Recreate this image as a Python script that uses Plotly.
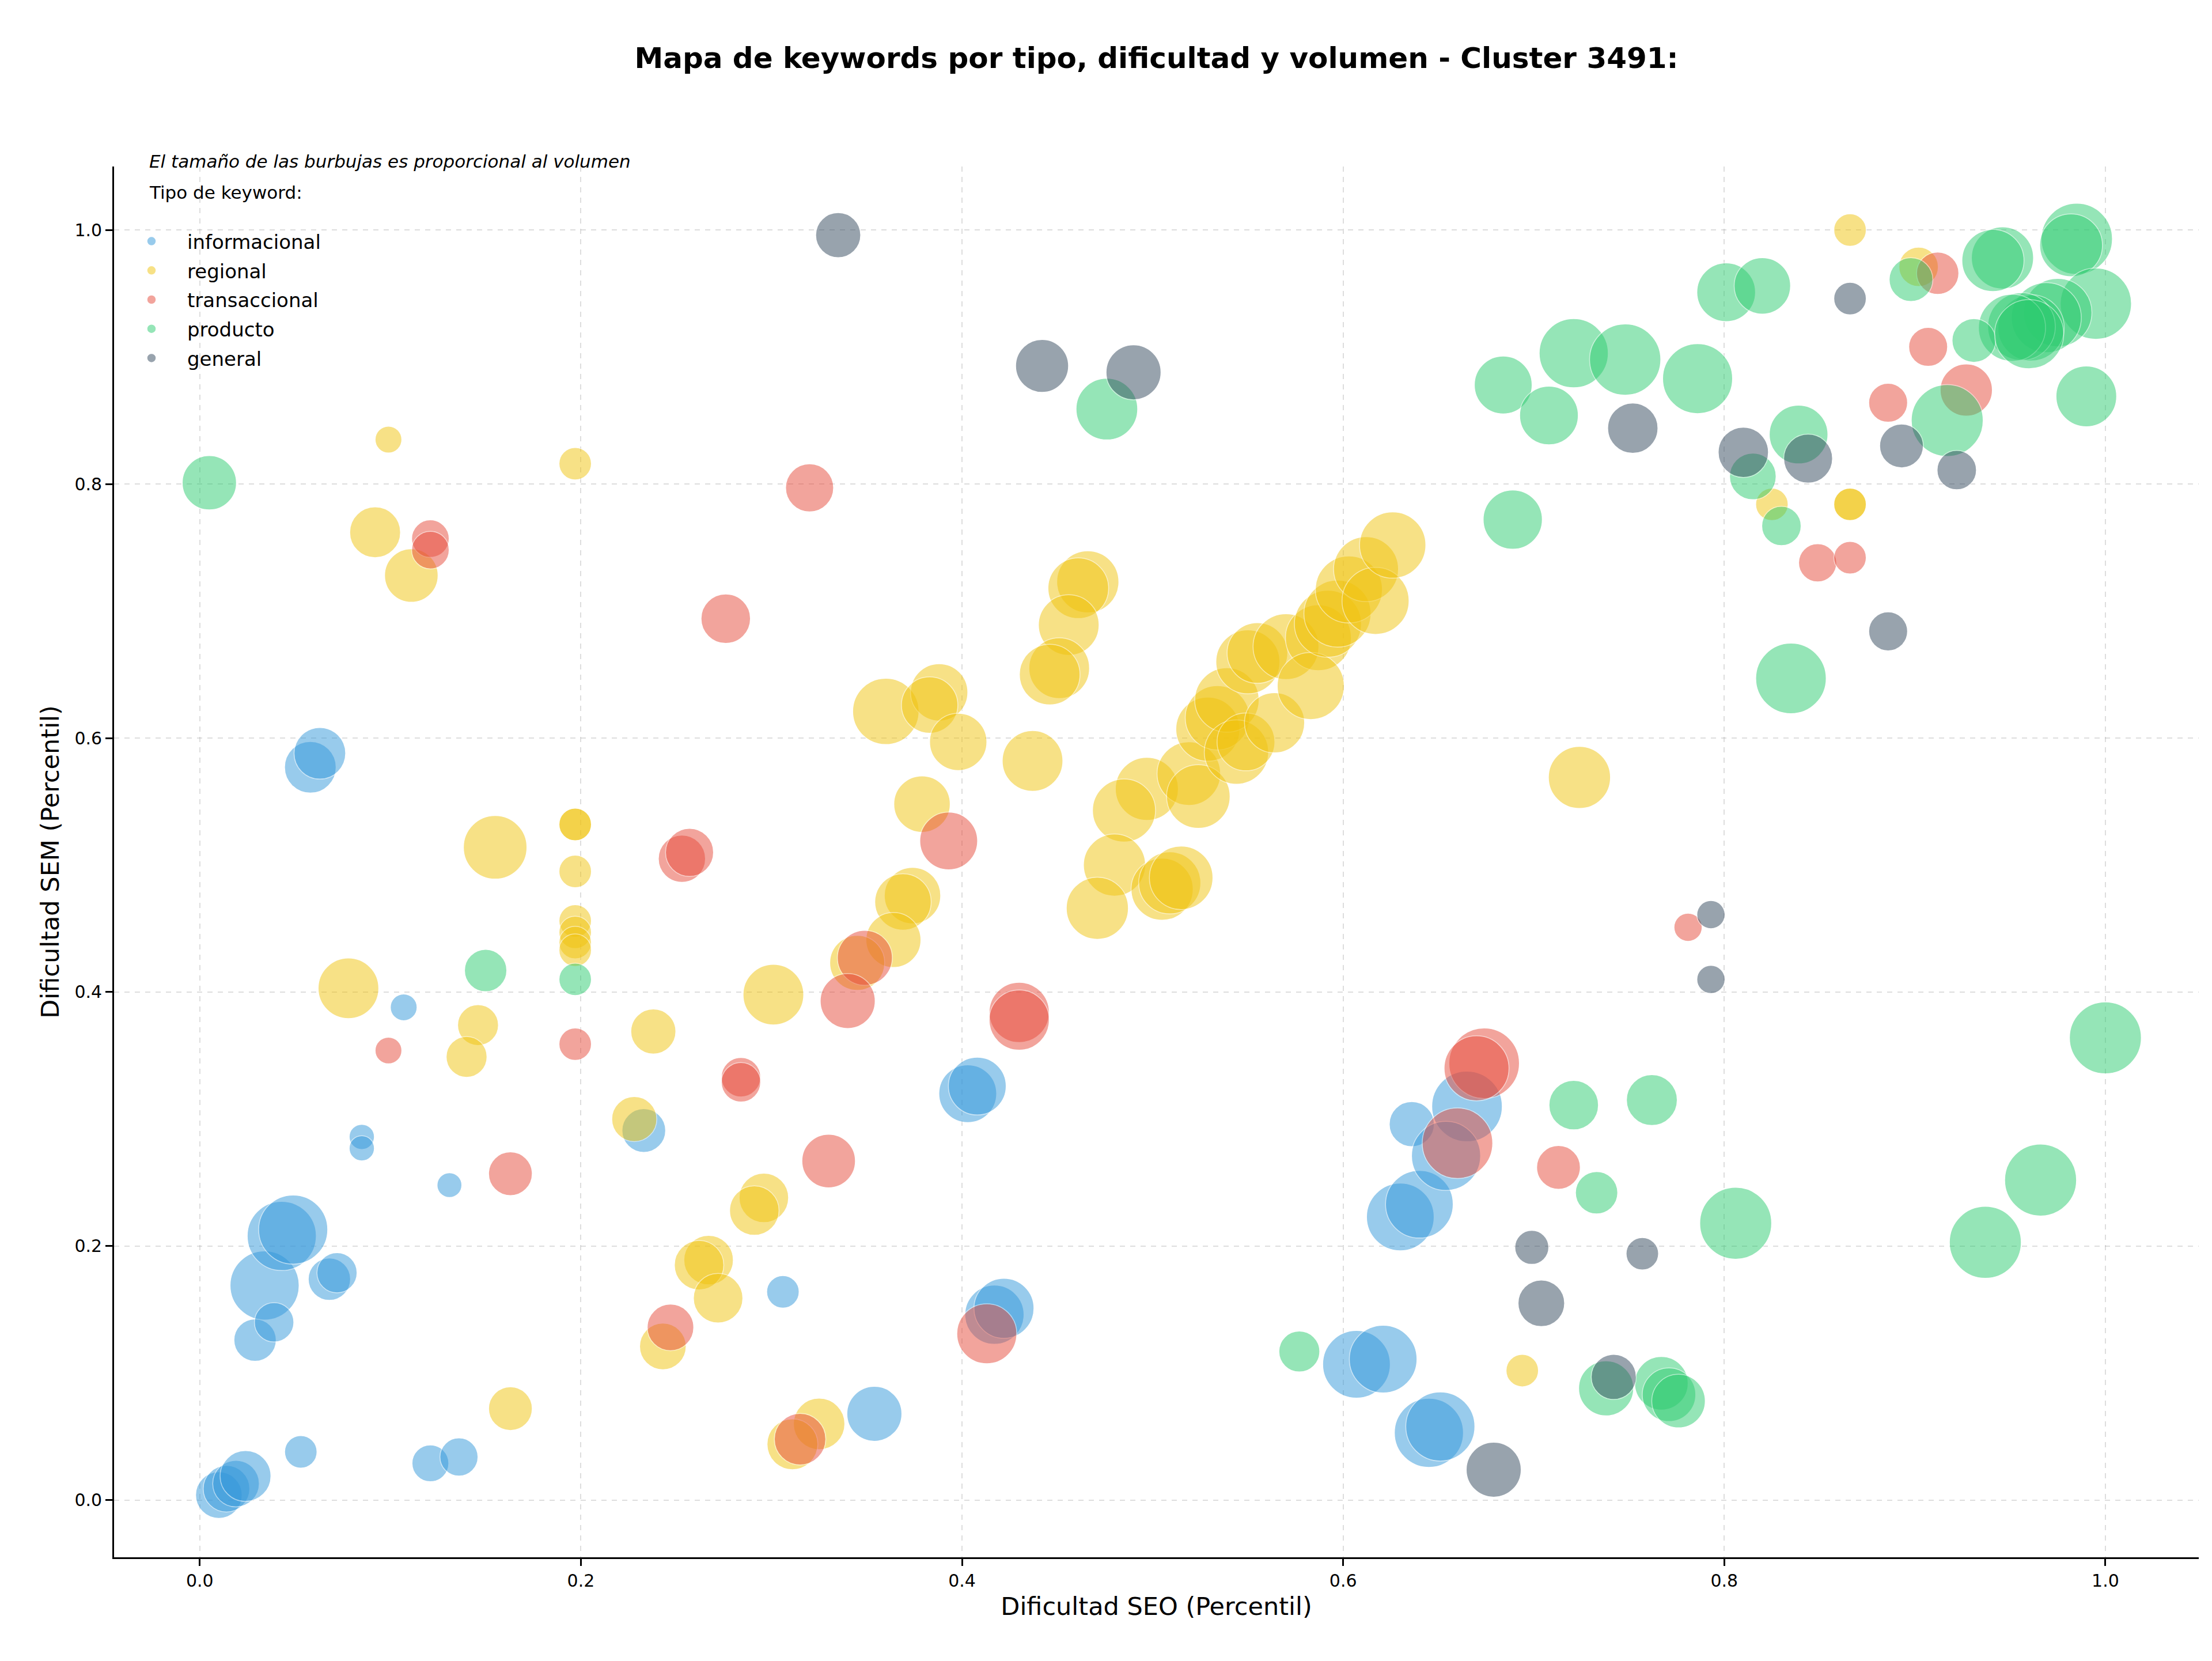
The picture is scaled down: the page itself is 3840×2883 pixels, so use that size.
import plotly.graph_objects as go

# ---------------- data ----------------
categories = ["informacional", "regional", "transaccional", "producto", "general"]
colors = {"informacional": "#3498db", "regional": "#f1c40f", "transaccional": "#e74c3c",
          "producto": "#2ecc71", "general": "#34495e"}

info_seo = [0.010, 0.014, 0.019, 0.024, 0.053, 0.121, 0.136, 0.034, 0.043, 0.049, 0.029, 0.039,
            0.068, 0.072, 0.085, 0.085, 0.131, 0.107, 0.058, 0.063, 0.233, 0.306, 0.354, 0.403,
            0.408, 0.417, 0.422, 0.607, 0.621, 0.645, 0.651, 0.630, 0.640, 0.636, 0.665, 0.654]
info_sem = [0.004, 0.009, 0.013, 0.019, 0.038, 0.029, 0.034, 0.169, 0.208, 0.213, 0.126, 0.140,
            0.174, 0.179, 0.286, 0.277, 0.248, 0.388, 0.577, 0.588, 0.291, 0.164, 0.068, 0.320,
            0.326, 0.146, 0.151, 0.107, 0.111, 0.053, 0.058, 0.223, 0.233, 0.296, 0.310, 0.271]
info_vol = [1090, 1090, 1090, 1300, 530, 680, 730, 2400, 2400, 2400, 900, 780,
            900, 810, 320, 320, 310, 360, 1340, 1340, 960, 530, 1520, 1680,
            1680, 1760, 1810, 2300, 2300, 2400, 2400, 2300, 2300, 1020, 2500, 2400]

reg_seo = [0.099, 0.197, 0.092, 0.111, 0.155, 0.197, 0.197, 0.197, 0.197, 0.197, 0.197, 0.197,
           0.078, 0.146, 0.140, 0.238, 0.301, 0.228, 0.296, 0.291, 0.267, 0.262, 0.272, 0.243,
           0.163, 0.325, 0.311, 0.694, 0.866, 0.902, 0.825, 0.866, 0.866, 0.724,
           0.466, 0.461, 0.456, 0.451, 0.446, 0.360, 0.388, 0.383, 0.398, 0.437, 0.379, 0.374,
           0.369, 0.364, 0.345, 0.497, 0.485, 0.519, 0.524, 0.480, 0.471, 0.505, 0.509, 0.515,
           0.529, 0.534, 0.539, 0.544, 0.549, 0.564, 0.550, 0.555, 0.570, 0.587, 0.583, 0.592,
           0.597, 0.603, 0.612, 0.617, 0.626]
reg_sem = [0.835, 0.816, 0.762, 0.728, 0.514, 0.532, 0.532, 0.495, 0.456, 0.447, 0.439, 0.433,
           0.403, 0.374, 0.349, 0.369, 0.398, 0.300, 0.238, 0.228, 0.189, 0.185, 0.159, 0.121,
           0.072, 0.060, 0.044, 0.102, 1.000, 0.971, 0.784, 0.784, 0.784, 0.569,
           0.723, 0.718, 0.689, 0.655, 0.650, 0.621, 0.636, 0.626, 0.597, 0.582, 0.548, 0.476,
           0.471, 0.441, 0.423, 0.560, 0.543, 0.572, 0.554, 0.500, 0.466, 0.481, 0.486, 0.490,
           0.607, 0.616, 0.630, 0.589, 0.597, 0.612, 0.660, 0.667, 0.672, 0.679, 0.641, 0.690,
           0.698, 0.717, 0.733, 0.708, 0.752]
reg_vol = [360, 530, 1300, 1440, 2030, 530, 530, 530, 530, 530, 530, 530,
           1850, 840, 840, 1020, 1850, 1020, 1230, 1230, 1230, 1230, 1230, 1090,
           960, 1330, 1300, 530, 530, 780, 530, 530, 530, 1940,
           1940, 1850, 1850, 1850, 1850, 2210, 1650, 1600, 1650, 1850, 1600, 1600,
           1600, 1520, 1520, 2000, 2000, 2030, 2030, 1940, 1940, 1940, 1940, 2030,
           2060, 2080, 2080, 2080, 1680, 1820, 2060, 1850, 2180, 2180, 2260, 2260,
           2260, 2260, 2120, 2260, 2210]

tra_seo = [0.121, 0.121, 0.320, 0.276, 0.253, 0.257, 0.393, 0.349, 0.340, 0.430, 0.430, 0.099,
           0.197, 0.284, 0.284, 0.163, 0.330, 0.247, 0.315, 0.413, 0.674, 0.670, 0.660, 0.713,
           0.781, 0.849, 0.866, 0.886, 0.907, 0.927, 0.912]
tra_sem = [0.757, 0.748, 0.797, 0.694, 0.505, 0.510, 0.519, 0.427, 0.393, 0.384, 0.378, 0.354,
           0.359, 0.333, 0.329, 0.257, 0.267, 0.136, 0.048, 0.131, 0.344, 0.340, 0.281, 0.262,
           0.451, 0.738, 0.742, 0.864, 0.908, 0.874, 0.966]
tra_vol = [710, 710, 1160, 1230, 1120, 1160, 1680, 1520, 1520, 1820, 1820, 360,
           530, 780, 780, 960, 1440, 1090, 1330, 1810, 2500, 2120, 2500, 960,
           400, 730, 530, 760, 760, 1370, 900]

pro_seo = [0.005, 0.150, 0.197, 0.476, 0.577, 0.721, 0.762, 0.733, 0.806, 0.738, 0.767, 0.771,
           0.776, 1.000, 0.966, 0.937, 0.684, 0.721, 0.708, 0.689, 0.748, 0.786, 0.801, 0.820,
           0.839, 0.815, 0.830, 0.835, 0.898, 0.946, 0.941, 0.985, 0.982, 0.995, 0.975, 0.969,
           0.961, 0.956, 0.951, 0.931, 0.960, 0.990, 0.917]
pro_sem = [0.801, 0.417, 0.410, 0.859, 0.117, 0.311, 0.315, 0.242, 0.218, 0.088, 0.092, 0.083,
           0.078, 0.364, 0.252, 0.203, 0.878, 0.903, 0.854, 0.772, 0.898, 0.883, 0.951, 0.956,
           0.839, 0.806, 0.767, 0.647, 0.961, 0.978, 0.976, 0.993, 0.988, 0.942, 0.935, 0.931,
           0.923, 0.924, 0.923, 0.913, 0.918, 0.869, 0.850]
pro_vol = [1480, 900, 530, 1910, 840, 1230, 1300, 900, 2600, 1520, 1440, 1440,
           1440, 2600, 2600, 2600, 1680, 2400, 1730, 1760, 2550, 2460, 1730, 1600,
           1730, 1090, 780, 2500, 960, 1940, 1940, 2550, 1980, 2550, 2350, 2460,
           2210, 2300, 2260, 960, 2400, 1850, 2600]

gen_seo = [0.335, 0.442, 0.490, 0.752, 0.810, 0.844, 0.866, 0.893, 0.922, 0.886, 0.793, 0.793,
           0.699, 0.757, 0.704, 0.742, 0.679]
gen_sem = [0.996, 0.893, 0.888, 0.844, 0.825, 0.820, 0.946, 0.830, 0.811, 0.684, 0.461, 0.410,
           0.199, 0.194, 0.155, 0.097, 0.024]
gen_vol = [1020, 1410, 1520, 1270, 1270, 1200, 530, 960, 780, 760, 400, 400,
           580, 530, 1090, 1020, 1520]

series = {
    "informacional": (info_seo, info_sem, info_vol),
    "regional": (reg_seo, reg_sem, reg_vol),
    "transaccional": (tra_seo, tra_sem, tra_vol),
    "producto": (pro_seo, pro_sem, pro_vol),
    "general": (gen_seo, gen_sem, gen_vol),
}

x_ticks = [0.0, 0.2, 0.4, 0.6, 0.8, 1.0]
y_ticks = [0.0, 0.2, 0.4, 0.6, 0.8, 1.0]

FONT = "DejaVu Sans"
W, H = 3840, 2883
ML, MR, MT, MB = 198, 23, 289, 180
PW, PH = W - ML - MR, H - MT - MB

fig = go.Figure()
for cat in categories:
    xs, ys, vs = series[cat]
    fig.add_trace(go.Scatter(
        x=xs, y=ys, mode="markers", name=cat, legendgroup=cat,
        marker=dict(size=vs, sizemode="area", sizeref=1 / 3, color=colors[cat],
                    opacity=0.5, line=dict(color="white", width=1.5)),
    ))

axis_common = dict(
    showline=True, linecolor="black", linewidth=2.7, mirror=False,
    ticks="outside", ticklen=12, tickwidth=2.7, tickcolor="black",
    tickfont=dict(family=FONT, size=30, color="black"),
    showgrid=True, gridcolor="rgba(180,180,180,0.45)", gridwidth=2, griddash="dash",
    zeroline=False, tickformat=".1f",
)

fig.update_layout(
    width=W, height=H,
    margin=dict(l=ML, r=MR, t=MT, b=MB),
    paper_bgcolor="white", plot_bgcolor="white",
    title=dict(text="<b>Mapa de keywords por tipo, dificultad y volumen - Cluster 3491:</b>",
               x=0.5, xref="paper", xanchor="center",
               y=1 - 100 / H, yref="container", yanchor="middle",
               font=dict(family=FONT, size=50, color="black")),
    xaxis=dict(range=[-0.045, 1.049], tickvals=x_ticks,
               title=dict(text="Dificultad SEO (Percentil)", standoff=14,
                          font=dict(family=FONT, size=43, color="black")),
               **axis_common),
    yaxis=dict(range=[-0.045, 1.05], tickvals=y_ticks,
               title=dict(text="Dificultad SEM (Percentil)", standoff=14,
                          font=dict(family=FONT, size=43, color="black")),
               **axis_common),
    legend=dict(x=3 / PW, xanchor="left", y=(H - MB - 390) / PH, yanchor="top",
                font=dict(family=FONT, size=34, color="black"),
                bgcolor="rgba(0,0,0,0)", borderwidth=0,
                itemwidth=114, tracegroupgap=3.5, itemsizing="trace"),
    showlegend=True,
    annotations=[
        dict(text="<i>El tamaño de las burbujas es proporcional al volumen</i>",
             xref="paper", yref="paper", x=(257 - ML) / PW,
             y=(H - MB - 280) / PH, xanchor="left", yanchor="middle",
             showarrow=False, font=dict(family=FONT, size=31, color="black")),
        dict(text="Tipo de keyword:",
             xref="paper", yref="paper", x=(257 - ML) / PW,
             y=(H - MB - 334) / PH, xanchor="left", yanchor="middle",
             showarrow=False, font=dict(family=FONT, size=31, color="black")),
    ],
)

fig.write_html("out.html")
